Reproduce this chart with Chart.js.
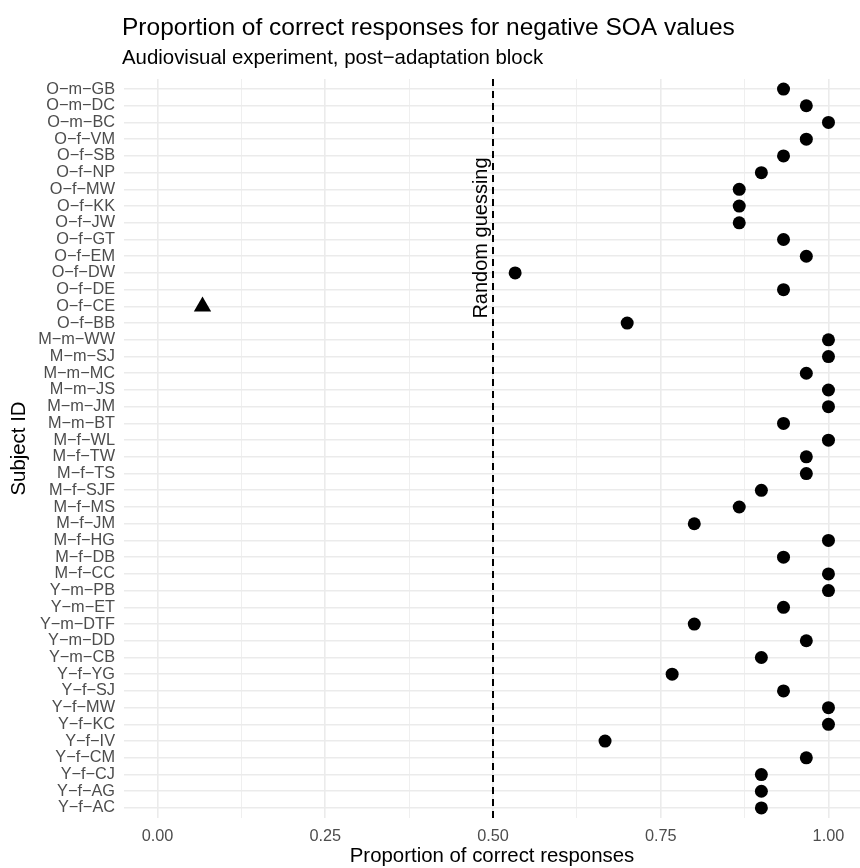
<!DOCTYPE html>
<html>
<head>
<meta charset="utf-8">
<script src="https://cdn.jsdelivr.net/npm/chart.js@4"></script>
<style>
  html, body { margin: 0; padding: 0; background: #fff; }
  #chart { display: block; }
</style>
</head>
<body>
<canvas id="chart" width="860" height="868"></canvas>
<script>
// Subjects top to bottom, as shown on the y axis
const subjects = [
  'O−m−GB', 'O−m−DC', 'O−m−BC', 'O−f−VM', 'O−f−SB', 'O−f−NP', 'O−f−MW', 'O−f−KK',
  'O−f−JW', 'O−f−GT', 'O−f−EM', 'O−f−DW', 'O−f−DE', 'O−f−CE', 'O−f−BB',
  'M−m−WW', 'M−m−SJ', 'M−m−MC', 'M−m−JS', 'M−m−JM', 'M−m−BT',
  'M−f−WL', 'M−f−TW', 'M−f−TS', 'M−f−SJF', 'M−f−MS', 'M−f−JM', 'M−f−HG', 'M−f−DB', 'M−f−CC',
  'Y−m−PB', 'Y−m−ET', 'Y−m−DTF', 'Y−m−DD', 'Y−m−CB',
  'Y−f−YG', 'Y−f−SJ', 'Y−f−MW', 'Y−f−KC', 'Y−f−IV', 'Y−f−CM', 'Y−f−CJ', 'Y−f−AG', 'Y−f−AC'
];

// Proportion of correct responses, same order as subjects
const proportion = [
  0.933, 0.967, 1.000, 0.967, 0.933, 0.900, 0.867, 0.867,
  0.867, 0.933, 0.967, 0.533, 0.933, 0.067, 0.700,
  1.000, 1.000, 0.967, 1.000, 1.000, 0.933,
  1.000, 0.967, 0.967, 0.900, 0.867, 0.800, 1.000, 0.933, 1.000,
  1.000, 0.933, 0.800, 0.967, 0.900,
  0.767, 0.933, 1.000, 1.000, 0.667, 0.967, 0.900, 0.900, 0.900
];

// Subjects drawn with a triangle instead of a dot
const flagged = ['O−f−CE'];

const xTicks = [0, 0.125, 0.25, 0.375, 0.5, 0.625, 0.75, 0.875, 1];
const chanceLevel = 0.5;

const FONT = "'Liberation Sans', Arial, sans-serif";
const isMajor = v => Math.abs(v * 4 - Math.round(v * 4)) < 1e-6;

// Titles, axis titles, reference line and its label
const annotations = {
  id: 'annotations',
  beforeDatasetsDraw(chart) {
    const { ctx, chartArea, scales } = chart;
    const x = scales.x.getPixelForValue(chanceLevel);
    ctx.save();
    ctx.strokeStyle = '#000';
    ctx.lineWidth = 2;
    ctx.setLineDash([7, 5]);
    ctx.beginPath();
    ctx.moveTo(x, chartArea.top);
    ctx.lineTo(x, chartArea.bottom);
    ctx.stroke();
    ctx.restore();
  },
  afterDraw(chart) {
    const { ctx, chartArea, scales } = chart;
    ctx.save();
    ctx.fillStyle = '#000';
    ctx.textAlign = 'left';
    ctx.textBaseline = 'alphabetic';
    ctx.font = `24.5px ${FONT}`;
    ctx.fillText('Proportion of correct responses for negative SOA values', 122, 35);
    ctx.font = `20.4px ${FONT}`;
    ctx.fillText('Audiovisual experiment, post−adaptation block', 122, 64);

    // x axis title
    ctx.textAlign = 'center';
    ctx.fillText('Proportion of correct responses', (chartArea.left + chartArea.right) / 2, 862);

    // y axis title
    ctx.save();
    ctx.translate(25, (chartArea.top + chartArea.bottom) / 2);
    ctx.rotate(-Math.PI / 2);
    ctx.fillText('Subject ID', 0, 0);
    ctx.restore();

    // label next to the chance line
    const x = scales.x.getPixelForValue(chanceLevel);
    ctx.save();
    ctx.translate(x - 6, 238);
    ctx.rotate(-Math.PI / 2);
    ctx.font = `20px ${FONT}`;
    ctx.fillText('Random guessing', 0, 0);
    ctx.restore();
    ctx.restore();
  }
};

new Chart(document.getElementById('chart'), {
  type: 'scatter',
  data: {
    datasets: [{
      data: subjects.map((s, i) => ({ x: proportion[i], y: i })),
      backgroundColor: '#000',
      borderColor: '#000',
      borderWidth: 0,
      pointStyle: ctx => flagged.includes(subjects[ctx.dataIndex]) ? 'triangle' : 'circle',
      pointRadius: ctx => flagged.includes(subjects[ctx.dataIndex]) ? 10 : 6.5
    }]
  },
  options: {
    responsive: false,
    animation: false,
    layout: { autoPadding: false, padding: { top: 79, left: 0, right: 0, bottom: 0 } },
    plugins: {
      legend: { display: false },
      tooltip: { enabled: false }
    },
    scales: {
      x: {
        type: 'linear',
        min: -0.05,
        max: 1.047,
        afterBuildTicks: scale => { scale.ticks = xTicks.map(v => ({ value: v })); },
        afterFit: scale => {
          scale.height = 50;
          scale.paddingLeft = 0;
          scale.paddingRight = 0;
        },
        border: { display: false },
        grid: {
          color: '#ebebeb',
          lineWidth: ctx => isMajor(ctx.tick.value) ? 1.6 : 0.8,
          drawTicks: false
        },
        ticks: {
          autoSkip: false,
          maxRotation: 0,
          padding: 9,
          color: '#4d4d4d',
          font: { family: FONT, size: 16.3 },
          callback: v => isMajor(v) ? v.toFixed(2) : ''
        }
      },
      y: {
        type: 'linear',
        reverse: true,
        min: -0.6,
        max: subjects.length - 1 + 0.6,
        afterBuildTicks: scale => { scale.ticks = subjects.map((s, i) => ({ value: i })); },
        afterFit: scale => {
          scale.width = 124;
          scale.paddingTop = 0;
          scale.paddingBottom = 0;
        },
        border: { display: false },
        grid: { color: '#ebebeb', lineWidth: 1.6, drawTicks: false },
        ticks: {
          autoSkip: false,
          padding: 9,
          color: '#4d4d4d',
          font: { family: FONT, size: 16.3 },
          callback: v => subjects[v]
        }
      }
    }
  },
  plugins: [annotations]
});
</script>
</body>
</html>
